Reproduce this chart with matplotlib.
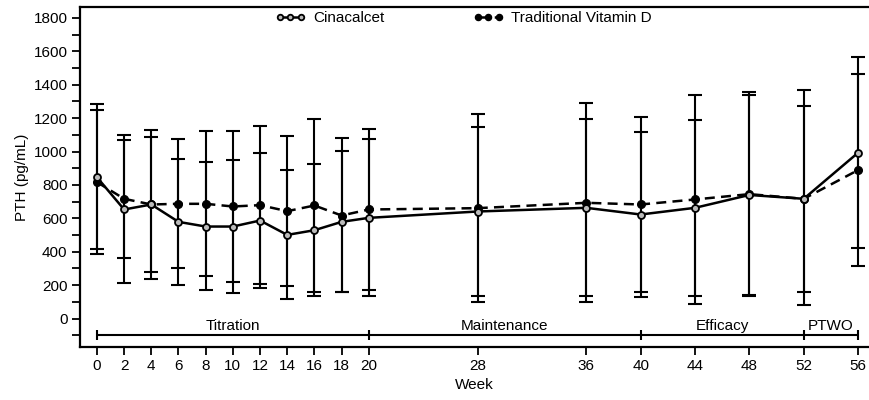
import numpy as np
import matplotlib
matplotlib.use("Agg")
import matplotlib.pyplot as plt
from matplotlib.ticker import MultipleLocator

plt.rcParams['font.family'] = ['Liberation Sans', 'DejaVu Sans']

# data (PTH, pg/mL)
weeks = [0, 2, 4, 6, 8, 10, 12, 14, 16, 18, 20, 28, 36, 40, 44, 48, 52, 56]
cin_mean = [846, 653, 683, 579, 551, 551, 587, 501, 529, 579, 603, 641, 663, 623, 663, 740, 717, 993]
vit_mean = [817, 717, 683, 687, 687, 671, 679, 643, 677, 617, 653, 661, 693, 683, 713, 745, 717, 889]
cin_upper = [1282, 1097, 1127, 1073, 1122, 1120, 1150, 1093, 1192, 1083, 1134, 1222, 1293, 1206, 1336, 1356, 1368, 1568]
vit_upper = [1248, 1069, 1087, 957, 937, 951, 989, 889, 927, 1005, 1074, 1149, 1197, 1119, 1191, 1336, 1272, 1466]
cin_lower = [417, 363, 277, 303, 253, 219, 209, 193, 161, 159, 169, 133, 133, 159, 137, 143, 159, 423]
vit_lower = [389, 213, 239, 203, 169, 153, 183, 117, 133, 159, 133, 97, 99, 129, 87, 137, 79, 313]

phase_names = ['Titration', 'Maintenance', 'Efficacy', 'PTWO']
phase_bounds = [0, 20, 40, 52, 56]
phase_label_x = [10, 30, 46, 54]

x = np.array(weeks)
cm = np.array(cin_mean)
vm = np.array(vit_mean)

fig = plt.figure(figsize=(8.69, 4.0), dpi=100)
ax = fig.add_axes([0.092, 0.1325, 0.908, 0.85])

ax.errorbar(x, cm, yerr=[cm - np.array(cin_lower), np.array(cin_upper) - cm],
            fmt='none', ecolor='black', elinewidth=1.5, capsize=5, capthick=1.5)
ax.errorbar(x, vm, yerr=[vm - np.array(vit_lower), np.array(vit_upper) - vm],
            fmt='none', ecolor='black', elinewidth=1.5, capsize=5, capthick=1.5)

ax.plot(x, vm, color='black', lw=1.8, ls=(0, (4, 2.5)), marker='o', ms=5.5,
        mfc='black', mec='black', label='Traditional Vitamin D', zorder=3)
ax.plot(x, cm, color='black', lw=1.8, ls='-', marker='o', ms=5,
        mfc='#bbbbbb', mec='black', mew=1.3, label='Cinacalcet', zorder=4)

# study phase bar
ax.hlines(-100, phase_bounds[0], phase_bounds[-1], color='black', lw=1.5)
ax.vlines(phase_bounds, -130, -70, color='black', lw=1.5)
for name, px in zip(phase_names, phase_label_x):
    ax.text(px, -85, name, ha='center', va='bottom', fontsize=11)

ax.set_xlim(-1.25, 56.8)
ax.set_ylim(-170, 1865)
ax.set_xticks(weeks)
ax.set_yticks(range(0, 1801, 200))
ax.yaxis.set_minor_locator(MultipleLocator(100))
ax.tick_params(axis='both', which='major', direction='out', length=5.5, width=1.3, labelsize=11)
ax.tick_params(axis='y', which='minor', direction='out', length=5.5, width=1.3)
for s in ['left', 'bottom', 'top']:
    ax.spines[s].set_linewidth(1.6)
ax.spines['right'].set_visible(False)

ax.set_xlabel('Week', fontsize=11, labelpad=3)
ax.set_ylabel('PTH (pg/mL)', fontsize=11, labelpad=3)

h, l = ax.get_legend_handles_labels()
leg = ax.legend(h[::-1], l[::-1], loc='center', bbox_to_anchor=(0.486, 0.968), ncol=2,
                frameon=False, numpoints=3, handlelength=2.0, columnspacing=5.8,
                fontsize=11, handletextpad=0.5, markerscale=0.8)

fig.savefig('out.png', dpi=100)
